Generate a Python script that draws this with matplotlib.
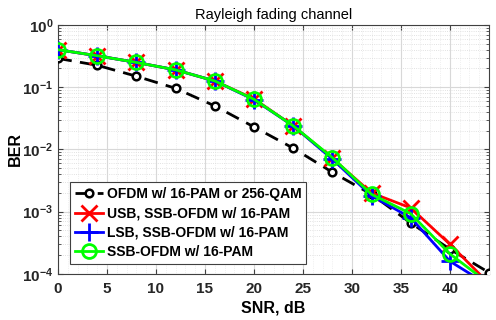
import numpy as np
import matplotlib
matplotlib.use("Agg")
import matplotlib.pyplot as plt
from matplotlib.ticker import LogLocator, MultipleLocator, NullFormatter

plt.rcParams['font.family'] = ['Liberation Sans', 'DejaVu Sans']

snr = [0, 4, 8, 12, 16, 20, 24, 28, 32, 36, 40, 44]
ber_ofdm = [0.29, 0.225, 0.15, 0.096, 0.05, 0.023, 0.0105, 0.0043, 0.0019, 6.6e-4, 2.5e-4, 1.05e-4]
ber_usb = [0.40, 0.32, 0.25, 0.19, 0.126, 0.065, 0.024, 0.0072, 0.0020, 1.15e-3, 3.0e-4, 7e-5]
ber_lsb = [0.40, 0.32, 0.25, 0.19, 0.126, 0.063, 0.024, 0.0070, 0.0018, 8.0e-4, 1.6e-4, 6.5e-5]
ber_ssb = [0.40, 0.32, 0.25, 0.19, 0.126, 0.064, 0.024, 0.0074, 0.0019, 9.3e-4, 2.1e-4, 7e-5]

labels = ['OFDM w/ 16-PAM or 256-QAM', 'USB, SSB-OFDM w/ 16-PAM',
          'LSB, SSB-OFDM w/ 16-PAM', 'SSB-OFDM w/ 16-PAM']

fig = plt.figure(figsize=(4.96, 3.2), dpi=100)
ax = fig.add_axes([0.117, 0.144, 0.869, 0.778])

ax.semilogy(snr, ber_ofdm, 'k--o', lw=2, ms=5.5, mfc='white', mew=1.8, dashes=(5, 3), label=labels[0], zorder=3)
ax.semilogy(snr, ber_usb, 'r-x', lw=2, ms=11, mew=2, label=labels[1], zorder=4)
ax.semilogy(snr, ber_lsb, 'b-+', lw=2, ms=13, mew=2, label=labels[2], zorder=5)
ax.semilogy(snr, ber_ssb, '-o', color='#00ff00', lw=2, ms=10, mfc='none', mew=2, label=labels[3], zorder=6)

ax.set_xlim(0, 44)
ax.set_ylim(1e-4, 1)
ax.xaxis.set_major_locator(MultipleLocator(5))
ax.xaxis.set_minor_locator(MultipleLocator(1))
ax.yaxis.set_major_locator(LogLocator(base=10, numticks=10))
ax.yaxis.set_minor_locator(LogLocator(base=10, subs=np.arange(2, 10), numticks=10))
ax.yaxis.set_minor_formatter(NullFormatter())

ax.grid(True, which='major', color='#d8d8d8', lw=0.8)
ax.grid(True, which='minor', axis='y', color='#d8d8d8', lw=0.6, ls=':')
ax.grid(True, which='minor', axis='x', color='#e4e4e4', lw=0.5, ls=':')
ax.tick_params(which='both', direction='in', top=True, right=True, colors='#404040',
               labelsize=11, labelcolor='#262626')
ax.tick_params(axis='x', which='minor', length=0)
ax.tick_params(axis='x', which='major', pad=6)
for lbl in ax.get_xticklabels() + ax.get_yticklabels():
    lbl.set_fontweight('bold')
for s in ax.spines.values():
    s.set_color('#404040')

ax.set_title('Rayleigh fading channel', fontsize=10.5, pad=4)
ax.set_xlabel('SNR, dB', fontsize=11.5, fontweight='bold', labelpad=3)
ax.set_ylabel('BER', fontsize=11.5, fontweight='bold', labelpad=-1)

leg = ax.legend(loc='lower left', bbox_to_anchor=(0.028, 0.04),
                prop={'weight': 'bold', 'size': 10}, fancybox=False, framealpha=1,
                edgecolor='#404040', handlelength=2.0, handletextpad=0.3,
                labelspacing=0.38, borderpad=0.35, borderaxespad=0)
leg.get_frame().set_linewidth(0.8)

fig.savefig('out.png', dpi=100)
